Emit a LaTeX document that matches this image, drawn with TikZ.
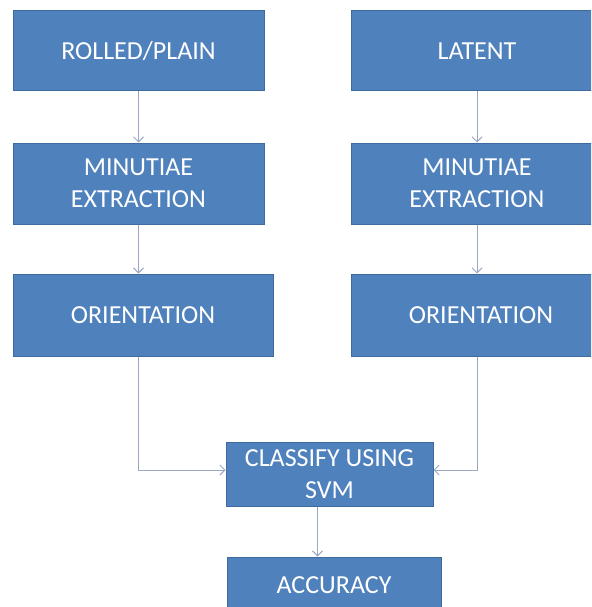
\documentclass[tikz,border=0pt]{standalone}
\usepackage{fontspec}
\setmainfont{Carlito}
\usetikzlibrary{arrows.meta}
\definecolor{boxblue}{HTML}{4F81BD}
\definecolor{boxedge}{HTML}{3F6A9E}
\definecolor{linkgray}{HTML}{9AA8C6}
\begin{document}
\begin{tikzpicture}[x=1pt,y=-1pt]
\tikzstyle{stagebox}=[draw=boxedge,fill=boxblue,line width=1pt,rectangle,text=white,align=center,font=\fontsize{26}{32}\selectfont,inner sep=2pt]
\tikzstyle{link}=[->,>={Straight Barb[length=5pt,width=10pt]},draw=linkgray,line width=1pt]
\clip (0,0) rectangle (591,607);
\fill[white] (0,0) rectangle (591,607);
% left column
\node[stagebox,minimum width=251pt,minimum height=80pt] (rolled) at (138.5,51) {ROLLED/PLAIN};
\node[stagebox,minimum width=251pt,minimum height=81pt] (minleft) at (138.5,183.5) {MINUTIAE\\EXTRACTION};
\node[stagebox,minimum width=260pt,minimum height=82pt] (orileft) at (143,315) {ORIENTATION};
% right column
\node[stagebox,minimum width=252pt,minimum height=80pt] (latent) at (477,51) {LATENT};
\node[stagebox,minimum width=252pt,minimum height=81pt] (minright) at (477,183.5) {MINUTIAE\\EXTRACTION};
\node[stagebox,minimum width=260pt,minimum height=82pt] (oriright) at (481,315) {ORIENTATION};
% merge
\node[stagebox,minimum width=207pt,minimum height=64pt] (svm) at (329.5,474) {CLASSIFY USING\\SVM};
\node[stagebox,minimum width=214pt,minimum height=56pt] (accuracy) at (334,585) {ACCURACY};
\draw[link] (rolled.south) -- (minleft.north);
\draw[link] (minleft.south) -- (minleft.south |- orileft.north);
\draw[link] (latent.south) -- (minright.north);
\draw[link] (minright.south) -- (minright.south |- oriright.north);
\draw[link] (minleft.south |- orileft.south) |- ([yshift=4pt]svm.west);
\draw[link] (minright.south |- oriright.south) |- ([yshift=4pt]svm.east);
\draw[link] ([xshift=-12pt]svm.south) -- ([xshift=-12pt]svm.south |- accuracy.north);
\end{tikzpicture}
\end{document}
